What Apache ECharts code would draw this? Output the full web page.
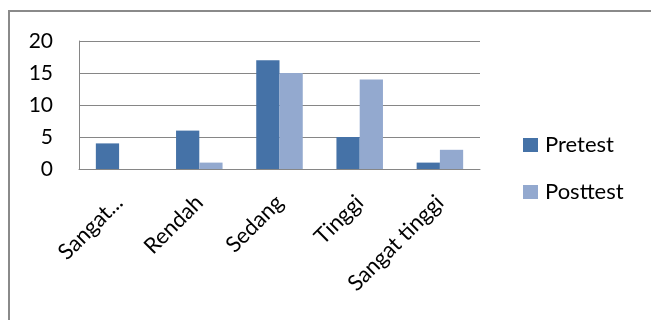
<!DOCTYPE html>
<html>
<head>
<meta charset="utf-8">
<script src="https://cdn.jsdelivr.net/npm/echarts@6/dist/echarts.min.js"></script>
<style>
  html, body { margin: 0; padding: 0; background: #fff; }
  #chart { width: 651px; height: 320px; }
</style>
</head>
<body>
<div id="chart"></div>
<script>
const categories = ["Sangat...", "Rendah", "Sedang", "Tinggi", "Sangat tinggi"];
const pretest = [4, 6, 17, 5, 1];
const posttest = [0, 1, 15, 14, 3];
const yTicks = [0, 5, 10, 15, 20];

const font = "Lato, 'Open Sans', sans-serif";
const chart = echarts.init(document.getElementById("chart"), null, { renderer: "canvas" });

chart.setOption({
  animation: false,
  textStyle: { fontFamily: font },
  graphic: [
    {
      // frame of the chart box (only top and left edges are visible)
      type: "polyline",
      shape: { points: [[9, 320], [9, 11], [651, 11]] },
      style: { stroke: "#8a8a8a", lineWidth: 2, fill: null }
    }
  ],
  grid: { left: 79, top: 41, width: 401, height: 128, containLabel: false },
  legend: {
    orient: "vertical",
    left: 523,
    top: 134,
    padding: 0,
    itemWidth: 15,
    itemHeight: 14,
    itemGap: 25,
    icon: "rect",
    textStyle: { fontSize: 22, color: "#000", fontFamily: font, padding: [0, 0, 0, 2] },
    data: ["Pretest", "Posttest"]
  },
  xAxis: {
    type: "category",
    data: categories,
    axisLine: { lineStyle: { color: "#868686", width: 1 } },
    axisTick: { show: false },
    axisLabel: {
      rotate: 45,
      interval: 0,
      margin: 30,
      align: "right",
      verticalAlign: "middle",
      fontSize: 22,
      color: "#000",
      fontFamily: font
    }
  },
  yAxis: {
    type: "value",
    min: yTicks[0],
    max: yTicks[yTicks.length - 1],
    interval: 5,
    axisLine: { show: true, lineStyle: { color: "#868686", width: 1 } },
    axisTick: { show: false },
    splitLine: { lineStyle: { color: "#868686", width: 1 } },
    axisLabel: { fontSize: 21, color: "#000", margin: 26, fontFamily: font }
  },
  series: [
    {
      name: "Pretest",
      type: "bar",
      data: pretest,
      barGap: "0%",
      barCategoryGap: "42%",
      itemStyle: { color: "#4572A7" }
    },
    {
      name: "Posttest",
      type: "bar",
      data: posttest,
      itemStyle: { color: "#93A9CF" }
    }
  ]
});
</script>
</body>
</html>
